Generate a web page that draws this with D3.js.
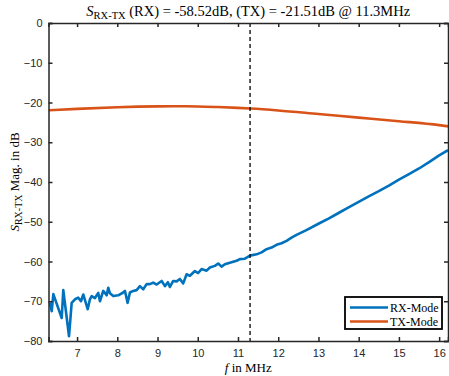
<!DOCTYPE html>
<html>
<head>
<meta charset="utf-8">
<script src="https://cdn.jsdelivr.net/npm/d3@7"></script>
<style>
  html, body { margin: 0; padding: 0; background: #fff; }
  svg { display: block; }
</style>
</head>
<body>
<svg id="chart" width="449" height="376"></svg>
<script>
// Frequency grid (MHz) and measured S-parameter magnitude (dB)
const rxFreq = [6.327, 6.37, 6.41, 6.618, 6.658, 6.80, 6.866, 6.948, 7.03, 7.097, 7.154, 7.264, 7.32, 7.363, 7.445,
  7.527, 7.569, 7.651, 7.736, 7.775, 7.817, 7.90, 8.024, 8.148, 8.19, 8.257, 8.314, 8.396, 8.48, 8.563, 8.645,
  8.729, 8.811, 8.893, 8.978, 9.102, 9.184, 9.258, 9.308, 9.39, 9.474, 9.556, 9.638, 9.723, 9.805, 9.929,
  10.011, 10.095, 10.22, 10.301, 10.426, 10.508, 10.592, 10.674, 10.798, 10.965, 11.047, 11.17, 11.3, 11.462,
  11.586, 11.71, 11.834, 11.958, 12.082, 12.207, 12.331, 12.455, 12.7, 13.0, 13.25, 13.5, 13.75, 14.0, 14.25,
  14.5, 14.75, 15.0, 15.25, 15.5, 15.75, 16.0, 16.22];
const rxMag = [-70.3, -72.5, -68.2, -74.2, -67.2, -78.8, -70.4, -69.5, -69.1, -70.0, -68.3, -72.0, -69.5, -68.7, -69.2,
  -67.9, -70.0, -67.4, -68.5, -66.6, -68.0, -68.7, -68.5, -67.8, -67.4, -70.4, -67.8, -67.4, -67.2, -66.2, -67.0,
  -65.7, -65.7, -65.3, -65.8, -64.9, -66.2, -65.2, -66.4, -64.9, -65.0, -64.4, -65.5, -63.2, -63.6, -62.4,
  -62.9, -61.9, -62.3, -61.5, -61.1, -60.5, -61.3, -60.7, -60.3, -59.8, -59.4, -59.3, -58.52, -58.2,
  -57.7, -56.9, -56.5, -55.8, -55.4, -54.8, -54.0, -53.3, -52.1, -50.5, -49.2, -47.8, -46.4, -45.0, -43.6,
  -42.3, -40.9, -39.4, -38.0, -36.6, -35.0, -33.3, -32.0];

const txFreq = [6.29, 7.0, 8.0, 9.0, 9.4, 10.0, 10.5, 11.0, 11.3, 12.0, 13.0, 14.0, 15.0, 16.0, 16.22];
const txMag  = [-21.95, -21.6, -21.2, -20.98, -20.95, -21.0, -21.15, -21.35, -21.51, -22.0, -22.9, -23.8, -24.7, -25.7, -26.0];

const markerFreq = 11.3;
const xTicks = [7, 8, 9, 10, 11, 12, 13, 14, 15, 16];
const yTicks = [0, -10, -20, -30, -40, -50, -60, -70, -80];
const seriesNames = ["RX-Mode", "TX-Mode"];
const seriesColors = ["#0072BD", "#D95319"];

const svg = d3.select("#chart");
const m = { left: 48.5, right: 448, top: 23, bottom: 341 };

const x = d3.scaleLinear().domain([6.29, 16.22]).range([m.left, m.right]);
const y = d3.scaleLinear().domain([-80, 0]).range([m.bottom, m.top]);

const axisColor = "#262626";
const sans = "'Liberation Sans', Arial, sans-serif";
const serif = "'Liberation Serif', 'Times New Roman', serif";

svg.append("defs").append("clipPath").attr("id", "plot-clip")
  .append("rect").attr("x", m.left).attr("y", m.top)
  .attr("width", m.right - m.left).attr("height", m.bottom - m.top);

const plot = svg.append("g").attr("clip-path", "url(#plot-clip)");

const line = d3.line().x(d => x(d[0])).y(d => y(d[1]));

plot.append("path")
  .datum(txFreq.map((f, i) => [f, txMag[i]]))
  .attr("d", d3.line().curve(d3.curveMonotoneX).x(d => x(d[0])).y(d => y(d[1])))
  .attr("fill", "none").attr("stroke", seriesColors[1]).attr("stroke-width", 2.6);

plot.append("path")
  .datum(rxFreq.map((f, i) => [f, rxMag[i]]))
  .attr("d", line)
  .attr("fill", "none").attr("stroke", seriesColors[0]).attr("stroke-width", 2.6)
  .attr("stroke-linejoin", "round");

// Vertical marker at the evaluation frequency
svg.append("line")
  .attr("x1", x(markerFreq)).attr("x2", x(markerFreq))
  .attr("y1", m.top).attr("y2", m.bottom)
  .attr("stroke", "#000").attr("stroke-width", 1.3).attr("stroke-dasharray", "4,3");

// Axes: box with inward ticks on all four sides
const tickLen = 4;
const bottomAxis = d3.axisBottom(x).tickValues(xTicks).tickSize(-tickLen).tickPadding(8).tickFormat(d3.format("d"));
const topAxis = d3.axisTop(x).tickValues(xTicks).tickSize(-tickLen).tickFormat("");
const leftAxis = d3.axisLeft(y).tickValues(yTicks).tickSize(-tickLen).tickPadding(6).tickFormat(d3.format("d"));
const rightAxis = d3.axisRight(y).tickValues(yTicks).tickSize(-tickLen).tickFormat("");

function styleAxis(g) {
  g.select(".domain").attr("stroke", axisColor).attr("stroke-width", 1.5);
  g.selectAll(".tick line").attr("stroke", axisColor).attr("stroke-width", 1.5);
  g.selectAll(".tick text").attr("fill", axisColor).style("font-family", sans).style("font-size", "11px");
}

svg.append("g").attr("transform", `translate(0,${m.bottom})`).call(bottomAxis).call(styleAxis);
svg.append("g").attr("transform", `translate(0,${m.top})`).call(topAxis).call(styleAxis);
svg.append("g").attr("transform", `translate(${m.left},0)`).call(leftAxis).call(styleAxis);
svg.append("g").attr("transform", `translate(${m.right},0)`).call(rightAxis).call(styleAxis);

// Title
const cx = (m.left + m.right) / 2;
const title = svg.append("text")
  .attr("x", cx).attr("y", 16).attr("text-anchor", "middle")
  .style("font-family", serif).style("font-size", "14.5px").attr("fill", "#000");
title.append("tspan").style("font-style", "italic").text("S");
title.append("tspan").attr("dy", 3).style("font-size", "10.5px").text("RX-TX");
title.append("tspan").attr("dy", -3).text(` (RX) = ${rxMag[rxFreq.indexOf(markerFreq)].toFixed(2)}dB, (TX) = ${txMag[txFreq.indexOf(markerFreq)].toFixed(2)}dB @ ${markerFreq}MHz`);

// X label
const xl = svg.append("text")
  .attr("x", cx).attr("y", 372).attr("text-anchor", "middle")
  .style("font-family", serif).style("font-size", "13px").attr("fill", "#000");
xl.append("tspan").style("font-style", "italic").text("f");
xl.append("tspan").text(" in MHz");

// Y label
const yl = svg.append("text")
  .attr("transform", `translate(19,${(m.top + m.bottom) / 2}) rotate(-90)`)
  .attr("text-anchor", "middle")
  .style("font-family", serif).style("font-size", "13px").attr("fill", "#000");
yl.append("tspan").style("font-style", "italic").text("S");
yl.append("tspan").attr("dy", 3).style("font-size", "10px").text("RX-TX");
yl.append("tspan").attr("dy", -3).text(" Mag. in dB");

// Legend
const lg = svg.append("g");
lg.append("rect").attr("x", 345).attr("y", 297).attr("width", 97).attr("height", 32)
  .attr("fill", "#fff").attr("stroke", "#000").attr("stroke-width", 1.8);
seriesNames.forEach((name, i) => {
  const yy = 307.5 + i * 14;
  lg.append("line").attr("x1", 350).attr("x2", 388).attr("y1", yy).attr("y2", yy)
    .attr("stroke", seriesColors[i]).attr("stroke-width", 2.6);
  lg.append("text").attr("x", 390).attr("y", yy + 4)
    .style("font-family", serif).style("font-size", "12px").attr("fill", "#000").text(name);
});
</script>
</body>
</html>
